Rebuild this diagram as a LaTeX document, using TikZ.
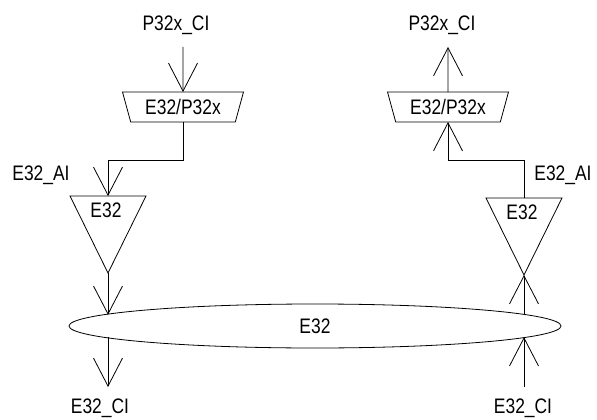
\documentclass[tikz,border=0pt]{standalone}
\usepackage{fontspec}
\setmainfont{Liberation Sans}[FakeStretch=0.83]
\usetikzlibrary{arrows.meta, positioning, shapes.geometric}

\begin{document}
\begin{tikzpicture}[
    x=1pt, y=-1pt,
    >={Straight Barb[length=28pt, width=29pt]},
    line width=0.8pt,
    every node/.style={font=\fontsize{21pt}{24pt}\selectfont, inner sep=0pt, outer sep=0pt},
    conv/.style={
      draw, trapezium, shape border rotate=180,
      trapezium left angle=62, trapezium right angle=62,
      trapezium stretches body, minimum width=121pt, minimum height=30pt
    },
    amp/.style={
      draw, isosceles triangle, shape border rotate=270,
      isosceles triangle apex angle=52.6, isosceles triangle stretches,
      minimum width=76pt, minimum height=77pt
    },
    bus/.style={draw, ellipse, minimum width=492pt, minimum height=44pt}
]
    \useasboundingbox (0,0) rectangle (597,420);

    % Converters and amplifiers
    \node[conv] (convL) at (183,107) {E32/P32x};
    \node[conv] (convR) at (448,107) {E32/P32x};
    \node[amp, anchor=apex] (ampL) at (108,273) {};
    \node[amp, anchor=apex] (ampR) at (524,275) {};
    \node[below=7pt of ampL.lower side, xshift=-2pt] (ampLtxt) {E32};
    \node[below=7pt of ampR.lower side, xshift=-2pt] (ampRtxt) {E32};
    \node[bus] (bus) at (315,326) {E32};

    % Free ends
    \coordinate (inL) at (183,47);
    \coordinate (outL) at (108,387);
    \coordinate (outR) at (448,47);
    \coordinate (inR) at (524,387);

    % Labels
    \node (pcL) at (176,25) {P32x\_CI};
    \node (pcR) at (442,25) {P32x\_CI};
    \node (aiL) at (41,175) {E32\_AI};
    \node (aiR) at (563,175) {E32\_AI};
    \node (ciL) at (100,408) {E32\_CI};
    \node (ciR) at (523,408) {E32\_CI};

    % Directed edges
    \draw[->] (inL) -- (convL.north);
    \draw[->] (convL.south) -- ++(0,38) -| (ampL.lower side);
    \draw[->] (ampL.apex) -- (bus.177 -| ampL.apex);
    \draw[->] (bus.183 -| ampL.apex) -- (outL);
    \draw[->] (convR.north) -- (outR);
    \draw[->] (ampR.lower side) -- ++(0,-38) -| (convR.south);
    \draw[->] (bus.3 -| ampR.apex) -- (ampR.apex);
    \draw[->] (inR) -- (bus.357 -| ampR.apex);
\end{tikzpicture}
\end{document}
